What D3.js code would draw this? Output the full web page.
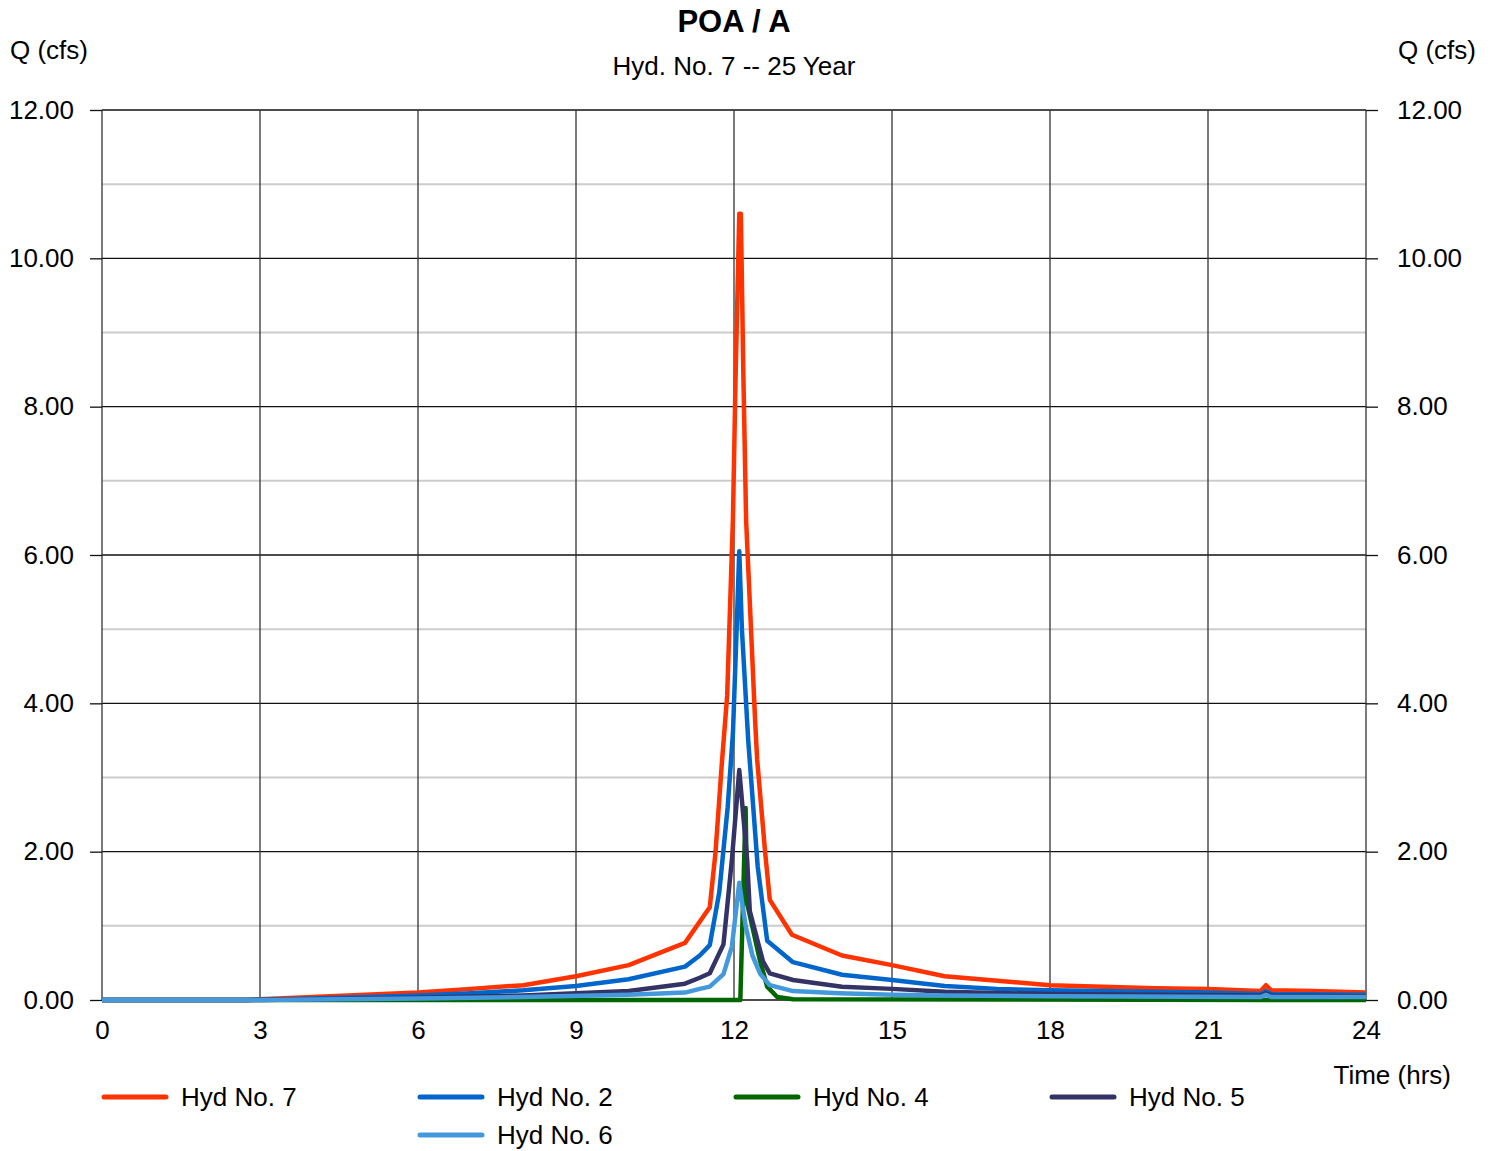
<!DOCTYPE html>
<html>
<head>
<meta charset="utf-8">
<script src="https://cdn.jsdelivr.net/npm/d3@7"></script>
<style>
  html, body { margin: 0; padding: 0; background: #fff; }
  svg { display: block; font-family: "Liberation Sans", Arial, sans-serif; }
</style>
</head>
<body>
<svg id="chart" width="1496" height="1151"></svg>
<script>
// ---- data ----
const seriesNames = ["Hyd No. 7", "Hyd No. 2", "Hyd No. 4", "Hyd No. 5", "Hyd No. 6"];
const seriesColors = ["#ff3300", "#0066cc", "#006600", "#333366", "#4499dd"];

const hyd7Time = [0, 2.75, 3, 4, 5, 6, 7, 8, 9, 10, 11.07, 11.54, 11.65, 11.77, 11.87, 11.98, 12.03, 12.1, 12.13, 12.18, 12.23, 12.4, 12.44, 12.59, 12.68, 13.1, 14.05, 15, 16, 17, 18, 19, 20, 21, 22.0, 22.1, 22.2, 23, 24];
const hyd7Q    = [0, 0, 0.01, 0.04, 0.07, 0.1, 0.15, 0.2, 0.32, 0.47, 0.77, 1.25, 2.0, 3.2, 4.1, 6.5, 8.4, 10.6, 10.6, 8.35, 6.47, 3.78, 3.24, 2.0, 1.35, 0.88, 0.6, 0.47, 0.32, 0.26, 0.2, 0.18, 0.16, 0.15, 0.12, 0.2, 0.13, 0.12, 0.1];

const hyd2Time = [0, 2.75, 3, 4, 5, 6, 7, 8, 9, 10, 11.07, 11.35, 11.54, 11.72, 11.88, 11.98, 12.05, 12.1, 12.15, 12.27, 12.45, 12.63, 13.12, 14.05, 15, 16, 17, 18, 19, 20, 21, 22.0, 22.1, 22.2, 24];
const hyd2Q    = [0, 0, 0.005, 0.02, 0.04, 0.06, 0.09, 0.13, 0.19, 0.28, 0.45, 0.6, 0.74, 1.45, 2.6, 3.6, 5.0, 6.05, 5.0, 3.5, 1.8, 0.8, 0.51, 0.34, 0.27, 0.19, 0.15, 0.13, 0.12, 0.11, 0.1, 0.08, 0.12, 0.08, 0.07];

const hyd4Time = [0, 12.12, 12.22, 12.25, 12.49, 12.63, 12.82, 13.12, 24];
const hyd4Q    = [0, 0, 2.59, 1.3, 0.54, 0.18, 0.04, 0.01, 0];

const hyd5Time = [0, 3, 6, 8, 9, 10, 11.07, 11.35, 11.54, 11.8, 11.96, 12.1, 12.25, 12.3, 12.55, 12.68, 13.12, 14.05, 15, 16, 18, 20, 22.0, 22.1, 22.2, 24];
const hyd5Q    = [0, 0, 0.03, 0.06, 0.09, 0.12, 0.22, 0.3, 0.36, 0.75, 1.89, 3.1, 1.89, 1.2, 0.52, 0.36, 0.27, 0.18, 0.15, 0.11, 0.08, 0.07, 0.06, 0.09, 0.06, 0.05];

const hyd6Time = [0, 3, 6, 8, 10, 11.07, 11.35, 11.54, 11.8, 11.96, 12.1, 12.22, 12.35, 12.5, 12.68, 13.12, 14, 15, 16, 18, 22.0, 22.1, 22.2, 24];
const hyd6Q    = [0, 0, 0.02, 0.04, 0.07, 0.1, 0.15, 0.18, 0.35, 0.72, 1.58, 1.0, 0.6, 0.35, 0.2, 0.12, 0.09, 0.07, 0.06, 0.05, 0.04, 0.07, 0.04, 0.04];

const xTicks = [0, 3, 6, 9, 12, 15, 18, 21, 24];
const yMajorTicks = [0, 2, 4, 6, 8, 10, 12];
const yMinorTicks = [1, 3, 5, 7, 9, 11];

const titleText = "POA / A";
const subtitleText = "Hyd. No. 7 -- 25 Year";
const yTitle = "Q (cfs)";
const xTitle = "Time (hrs)";

// ---- layout ----
const svg = d3.select("#chart");
const L = 102, R = 1366, T = 110, B = 1000;
const x = d3.scaleLinear().domain([0, 24]).range([L, R]);
const y = d3.scaleLinear().domain([0, 12]).range([B, T]);
const FS = 26;

// minor horizontal grid
svg.append("g").selectAll("line").data(yMinorTicks).join("line")
  .attr("x1", L).attr("x2", R)
  .attr("y1", d => y(d)).attr("y2", d => y(d))
  .attr("stroke", "#cccccc").attr("stroke-width", 2);

// major horizontal grid
svg.append("g").selectAll("line").data(yMajorTicks).join("line")
  .attr("x1", L).attr("x2", R)
  .attr("y1", d => y(d)).attr("y2", d => y(d))
  .attr("stroke", "#111").attr("stroke-width", 1.3);

// vertical grid
svg.append("g").selectAll("line").data(xTicks).join("line")
  .attr("x1", d => x(d)).attr("x2", d => x(d))
  .attr("y1", T).attr("y2", B)
  .attr("stroke", "#333").attr("stroke-width", 1.3);

// axes
const leftAxis = d3.axisLeft(y).tickValues(yMajorTicks).tickSize(12).tickPadding(16)
  .tickFormat(d3.format(".2f"));
const rightAxis = d3.axisRight(y).tickValues(yMajorTicks).tickSize(12).tickPadding(19)
  .tickFormat(d3.format(".2f"));
const bottomAxis = d3.axisBottom(x).tickValues(xTicks).tickSize(0).tickPadding(21)
  .tickFormat(d3.format("d"));

function styleAxis(g) {
  g.select(".domain").remove();
  g.selectAll(".tick line").attr("stroke", "#111").attr("stroke-width", 1.3);
  g.selectAll(".tick text").attr("fill", "#000")
    .style("font-size", FS + "px").style("font-family", '"Liberation Sans", Arial, sans-serif');
}
svg.append("g").attr("transform", `translate(${L},0)`).call(leftAxis).call(styleAxis);
svg.append("g").attr("transform", `translate(${R},0)`).call(rightAxis).call(styleAxis);
svg.append("g").attr("transform", `translate(0,${B})`).call(bottomAxis).call(styleAxis);

// series
const seriesTimes = [hyd7Time, hyd2Time, hyd4Time, hyd5Time, hyd6Time];
const seriesQs = [hyd7Q, hyd2Q, hyd4Q, hyd5Q, hyd6Q];
const line = d3.line().x(d => x(d[0])).y(d => y(d[1]));
seriesNames.forEach((name, i) => {
  const pts = seriesTimes[i].map((t, j) => [t, seriesQs[i][j]]);
  svg.append("path").datum(pts)
    .attr("d", line)
    .attr("fill", "none")
    .attr("stroke", seriesColors[i])
    .attr("stroke-width", 4.5)
    .attr("stroke-linejoin", "round");
});

// titles
svg.append("text").attr("x", 734).attr("y", 32).attr("text-anchor", "middle")
  .style("font-size", "31px").style("font-weight", "bold").text(titleText);
svg.append("text").attr("x", 734).attr("y", 75).attr("text-anchor", "middle")
  .style("font-size", FS + "px").text(subtitleText);
svg.append("text").attr("x", 10).attr("y", 59).style("font-size", FS + "px").text(yTitle);
svg.append("text").attr("x", 1398).attr("y", 59).style("font-size", FS + "px").text(yTitle);
svg.append("text").attr("x", 1451).attr("y", 1084).attr("text-anchor", "end")
  .style("font-size", FS + "px").text(xTitle);

// legend
const legendPos = [[102, 1097], [418, 1097], [734, 1097], [1050, 1097], [418, 1135]];
seriesNames.forEach((name, i) => {
  const [lx, ly] = legendPos[i];
  svg.append("line").attr("x1", lx + 2).attr("x2", lx + 64)
    .attr("y1", ly).attr("y2", ly)
    .attr("stroke", seriesColors[i]).attr("stroke-width", 5).attr("stroke-linecap", "round");
  svg.append("text").attr("x", lx + 79).attr("y", ly + 9)
    .style("font-size", FS + "px").text(name);
});
</script>
</body>
</html>
